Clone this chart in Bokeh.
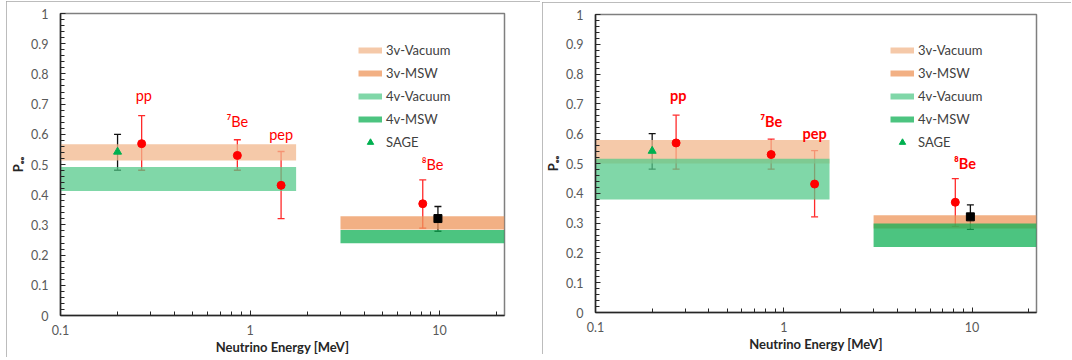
from bokeh.plotting import figure
from bokeh.layouts import row
from bokeh.models import (ColumnDataSource, Whisker, TeeHead, FixedTicker, Legend,
                          LegendItem, Range1d)
from bokeh.core.properties import value
from bokeh.embed import file_html
from bokeh.resources import INLINE

# ---------------- data ----------------
band_names = ["3v-Vacuum", "3v-MSW", "4v-Vacuum", "4v-MSW"]
band_x0 = [0.1, 3.0, 0.1, 3.0]
band_x1 = [1.75, 22.0, 1.75, 22.0]
left_band_y0 = [0.513, 0.285, 0.412, 0.239]
left_band_y1 = [0.567, 0.329, 0.492, 0.283]
right_band_y0 = [0.500, 0.282, 0.379, 0.220]
right_band_y1 = [0.579, 0.326, 0.516, 0.299]

src_names = ["pp", "\u2077Be", "pep", "\u2078Be"]
src_energy = [0.268, 0.857, 1.458, 8.15]
src_pee = [0.569, 0.530, 0.431, 0.370]
src_lo = [0.481, 0.481, 0.321, 0.289]
src_hi = [0.662, 0.582, 0.543, 0.449]
label_energy = [0.275, 0.857, 1.458, 9.18]
label_pee = [0.729, 0.642, 0.600, 0.500]

sage_energy = [0.2]
sage_pee = [0.542]
sage_lo = [0.481]
sage_hi = [0.600]

sq_energy = [9.8]
sq_pee = [0.321]
sq_lo = [0.279]
sq_hi = [0.361]

x_ticks = [0.1, 1, 10]
x_tick_labels = ["0.1", "1", "10"]
x_minor = [0.2, 0.3, 0.4, 0.5, 0.6, 0.7, 0.8, 0.9, 2, 3, 4, 5, 6, 7, 8, 9, 20]
y_ticks = [0, 0.1, 0.2, 0.3, 0.4, 0.5, 0.6, 0.7, 0.8, 0.9, 1.0]
y_tick_labels = ["0", "0.1", "0.2", "0.3", "0.4", "0.5", "0.6", "0.7", "0.8", "0.9", "1"]
y_minor = [i / 50 for i in range(51)]

# ---------------- styles ----------------
legend_colors = ["#F5C9A9", "#F2B084", "#80D7A8", "#4CC480"]
fill_colors = ["#F2B78C", "#EE965B", "#56CA8B", "#10B056"]
FILL_ALPHA = 0.75
FONT = "Lato"
NAN = float("nan")


def make_panel(width, height, margin, y0s, y1s, borders, leg_pos, bold_labels):
    bl, br, bt, bb = borders
    p = figure(width=width, height=height, x_axis_type="log",
               x_range=Range1d(0.1, 22), y_range=Range1d(0, 1),
               output_backend="svg", toolbar_location=None,
               min_border_left=bl, min_border_right=br,
               min_border_top=bt, min_border_bottom=bb,
               margin=margin,
               styles={"outline": "1.5px solid #A6A6A6", "outline-offset": "-1.5px"})
    p.xgrid.grid_line_color = None
    p.ygrid.grid_line_color = None
    p.outline_line_color = "#7F7F7F"
    p.outline_line_width = 1.5
    p.background_fill_color = "white"
    p.border_fill_color = "white"

    # error bars (under the bands)
    s_src = ColumnDataSource(dict(x=src_energy, y=src_pee, lo=src_lo, hi=src_hi))
    s_sage = ColumnDataSource(dict(x=sage_energy, y=sage_pee, lo=sage_lo, hi=sage_hi))
    s_sq = ColumnDataSource(dict(x=sq_energy, y=sq_pee, lo=sq_lo, hi=sq_hi))
    for src, col in ((s_src, "#FF2A2A"), (s_sage, "#111111"), (s_sq, "#111111")):
        w = Whisker(base="x", lower="lo", upper="hi", source=src,
                    line_color=col, line_width=1.3,
                    upper_head=TeeHead(size=7, line_color=col, line_width=1.3),
                    lower_head=TeeHead(size=7, line_color=col, line_width=1.3))
        p.add_layout(w)

    # bands
    for i in range(4):
        p.quad(left=[band_x0[i]], right=[band_x1[i]], bottom=[y0s[i]], top=[y1s[i]],
               fill_color=fill_colors[i], fill_alpha=FILL_ALPHA, line_color=None)

    # legend swatches (invisible NaN lines, only used for the legend)
    items = []
    for i in range(4):
        r = p.line(x=[NAN], y=[NAN], line_color=legend_colors[i], line_width=6)
        items.append(LegendItem(label=band_names[i], renderers=[r]))

    # points
    p.scatter(x="x", y="y", source=s_src, marker="circle", size=8,
              fill_color="#FF0000", line_color="#FF0000")
    sage = p.scatter(x="x", y="y", source=s_sage, marker="triangle", size=8,
                     fill_color="#00B050", line_color="#00B050")
    p.scatter(x="x", y="y", source=s_sq, marker="square", size=8,
              fill_color="#000000", line_color="#000000")
    items.append(LegendItem(label="SAGE", renderers=[sage]))

    # labels
    p.text(x=label_energy, y=label_pee, text=src_names, text_color="#FF0000",
           text_font=value(FONT), text_font_size="14.5px",
           text_font_style="bold" if bold_labels else "normal",
           text_align="center", text_baseline="middle")

    # legend
    fh = height - bt - bb
    lx, ltop = leg_pos
    leg = Legend(items=items, location=(lx, fh - ltop - 108),
                 glyph_width=24, glyph_height=16, label_height=16,
                 label_standoff=4, spacing=7, padding=0, margin=0,
                 border_line_color=None, background_fill_alpha=0,
                 label_text_font=FONT, label_text_font_size="13px",
                 label_text_color="#404040")
    p.add_layout(leg, "center")

    # axes
    p.xaxis.ticker = FixedTicker(ticks=x_ticks, minor_ticks=x_minor)
    p.xaxis.major_label_overrides = dict(zip(x_ticks, x_tick_labels))
    p.yaxis.ticker = FixedTicker(ticks=y_ticks, minor_ticks=y_minor)
    p.yaxis.major_label_overrides = dict(zip(y_ticks, y_tick_labels))
    for ax in (p.xaxis[0], p.yaxis[0]):
        ax.axis_line_color = "#262626"
        ax.axis_line_width = 1.5
        ax.major_tick_in = 5
        ax.major_tick_out = 0
        ax.minor_tick_in = 4
        ax.minor_tick_out = 0
        ax.major_tick_line_color = "#262626"
        ax.minor_tick_line_color = "#262626"
        ax.major_label_text_font = FONT
        ax.major_label_text_font_size = "12.5px"
        ax.major_label_text_color = "#595959"
        ax.axis_label_text_font = FONT
        ax.axis_label_text_font_size = "13px"
        ax.axis_label_text_font_style = "bold"
        ax.axis_label_text_color = "#262626"
    p.xaxis.axis_label = "Neutrino Energy [MeV]"
    p.xaxis.major_label_standoff = 9
    p.xaxis.axis_label_standoff = 1
    p.yaxis.axis_label = "P\u2091\u2091"
    p.yaxis.major_label_standoff = 12
    p.yaxis.axis_label_standoff = 2
    return p


# left panel: box x 6..540, y 1..357 ; frame x 60..504, y 13..320
left = make_panel(534, 356, (1, 1, 3, 6), left_band_y0, left_band_y1,
                  (54, 36, 12, 37), (298, 34), False)
# right panel: box x 542..1071, y 2..354 ; frame x 595..1036, y 13..317
right = make_panel(529, 352, (2, 1, 6, 1), right_band_y0, right_band_y1,
                   (53, 35, 11, 37), (295, 34), True)

layout = row(left, right, spacing=0)
open("out.html", "w").write(file_html(layout, INLINE))
